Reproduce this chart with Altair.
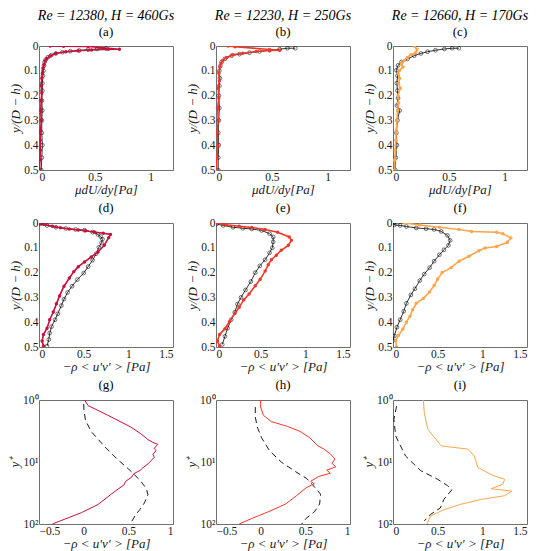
import altair as alt
import pandas as pd

# ---------------- data ----------------
# Row 1: viscous shear  mu dU/dy  vs  y/(D-h)
A_REF_X = [0.60, 0.52, 0.44, 0.36, 0.28, 0.21, 0.15, 0.11, 0.08, 0.06, 0.05, 0.045, 0.04, 0.035, 0.03, 0.03, 0.025, 0.03, 0.025, 0.025, 0.03, 0.025, 0.02]
A_REF_Y = [0.010, 0.012, 0.015, 0.018, 0.021, 0.025, 0.030, 0.037, 0.045, 0.055, 0.065, 0.080, 0.100, 0.120, 0.150, 0.180, 0.220, 0.260, 0.300, 0.350, 0.400, 0.450, 0.500]
A_MHD_X = [0.10, 0.22, 0.44, 0.72, 0.62, 0.47, 0.35, 0.24, 0.15, 0.10, 0.07, 0.055, 0.045, 0.035, 0.03, 0.025, 0.02, 0.025, 0.02, 0.015, 0.02, 0.015, 0.01, 0.012, 0.008, 0.005]
A_MHD_Y = [0.000, 0.001, 0.002, 0.013, 0.013, 0.016, 0.019, 0.023, 0.030, 0.040, 0.050, 0.060, 0.075, 0.090, 0.110, 0.130, 0.160, 0.190, 0.220, 0.260, 0.300, 0.340, 0.380, 0.420, 0.460, 0.500]

B_REF_X = [0.71, 0.64, 0.57, 0.48, 0.39, 0.30, 0.21, 0.14, 0.08, 0.05, 0.04, 0.03, 0.035, 0.03, 0.025, 0.03, 0.025, 0.02, 0.025, 0.02, 0.02]
B_REF_Y = [0.009, 0.009, 0.013, 0.017, 0.022, 0.027, 0.033, 0.039, 0.052, 0.065, 0.080, 0.100, 0.130, 0.160, 0.200, 0.250, 0.300, 0.350, 0.400, 0.450, 0.500]
B_MHD_X = [0.11, 0.17, 0.57, 0.48, 0.36, 0.24, 0.15, 0.095, 0.06, 0.045, 0.035, 0.025, 0.03, 0.02, 0.025, 0.015, 0.02, 0.01, 0.015, 0.008, 0.005]
B_MHD_Y = [0.000, 0.003, 0.017, 0.018, 0.022, 0.029, 0.035, 0.046, 0.058, 0.070, 0.085, 0.110, 0.140, 0.170, 0.210, 0.250, 0.300, 0.350, 0.400, 0.450, 0.500]

C_REF_X = [0.59, 0.53, 0.46, 0.38, 0.31, 0.25, 0.19, 0.13, 0.075, 0.045, 0.03, 0.04, 0.035, 0.04, 0.045, 0.035, 0.06, 0.04, 0.03, 0.035, 0.025, 0.02]
C_REF_Y = [0.009, 0.009, 0.012, 0.017, 0.023, 0.030, 0.039, 0.052, 0.065, 0.078, 0.098, 0.120, 0.150, 0.180, 0.210, 0.240, 0.260, 0.300, 0.350, 0.400, 0.450, 0.500]
C_MHD_X = [0.19, 0.215, 0.205, 0.16, 0.13, 0.10, 0.075, 0.09, 0.06, 0.045, 0.06, 0.05, 0.065, 0.045, 0.05, 0.04, 0.035, 0.03, 0.025, 0.02, 0.015, 0.015]
C_MHD_Y = [0.000, 0.013, 0.026, 0.035, 0.046, 0.059, 0.072, 0.085, 0.098, 0.110, 0.130, 0.150, 0.170, 0.200, 0.230, 0.260, 0.300, 0.340, 0.380, 0.420, 0.460, 0.500]

# Row 2: Reynolds shear stress  -rho<u'v'>  vs  y/(D-h)
D_REF_X = [0.02, 0.09, 0.19, 0.30, 0.41, 0.51, 0.60, 0.66, 0.69, 0.71, 0.70, 0.67, 0.64, 0.60, 0.55, 0.50, 0.43, 0.37, 0.32, 0.28, 0.25, 0.21, 0.18, 0.14, 0.12, 0.11, 0.09]
D_REF_Y = [0.003, 0.010, 0.017, 0.022, 0.026, 0.029, 0.037, 0.046, 0.055, 0.065, 0.080, 0.098, 0.124, 0.150, 0.176, 0.202, 0.228, 0.255, 0.280, 0.307, 0.333, 0.366, 0.390, 0.418, 0.444, 0.470, 0.496]
D_MHD_X = [0.02, 0.05, 0.15, 0.24, 0.34, 0.44, 0.52, 0.62, 0.72, 0.80, 0.78, 0.73, 0.66, 0.585, 0.51, 0.44, 0.39, 0.34, 0.28, 0.23, 0.195, 0.16, 0.12, 0.09, 0.05, 0.035, 0.05]
D_MHD_Y = [0.002, 0.005, 0.013, 0.019, 0.024, 0.028, 0.031, 0.036, 0.041, 0.046, 0.059, 0.090, 0.117, 0.137, 0.157, 0.176, 0.196, 0.222, 0.255, 0.294, 0.326, 0.359, 0.390, 0.424, 0.450, 0.476, 0.496]

E_REF_X = [0.007, 0.08, 0.19, 0.30, 0.40, 0.51, 0.60, 0.64, 0.64, 0.63, 0.60, 0.55, 0.49, 0.44, 0.39, 0.33, 0.28, 0.24, 0.21, 0.17, 0.13, 0.10, 0.07]
E_REF_Y = [0.004, 0.010, 0.017, 0.021, 0.024, 0.030, 0.043, 0.056, 0.076, 0.100, 0.120, 0.148, 0.173, 0.200, 0.236, 0.270, 0.300, 0.327, 0.360, 0.390, 0.424, 0.457, 0.490]
E_MHD_X = [0.007, 0.115, 0.26, 0.40, 0.55, 0.69, 0.82, 0.845, 0.81, 0.73, 0.675, 0.62, 0.585, 0.55, 0.495, 0.44, 0.37, 0.31, 0.26, 0.21, 0.15, 0.10, 0.04, 0.015, 0.04]
E_MHD_Y = [0.000, 0.007, 0.013, 0.018, 0.026, 0.037, 0.056, 0.070, 0.090, 0.110, 0.130, 0.148, 0.168, 0.194, 0.227, 0.253, 0.286, 0.310, 0.340, 0.365, 0.398, 0.426, 0.450, 0.476, 0.496]

F_REF_X = [0.007, 0.015, 0.08, 0.15, 0.26, 0.37, 0.46, 0.54, 0.61, 0.64, 0.62, 0.57, 0.52, 0.46, 0.41, 0.35, 0.30, 0.245, 0.20, 0.15, 0.12, 0.08, 0.044, 0.015, 0.0]
F_REF_Y = [0.000, 0.008, 0.010, 0.014, 0.020, 0.023, 0.026, 0.034, 0.050, 0.070, 0.090, 0.108, 0.128, 0.154, 0.180, 0.206, 0.232, 0.265, 0.290, 0.324, 0.356, 0.390, 0.420, 0.455, 0.474]
F_MHD_X = [0.13, 0.30, 0.52, 0.74, 0.88, 1.16, 1.23, 1.32, 1.28, 1.16, 1.03, 0.96, 0.85, 0.74, 0.65, 0.55, 0.50, 0.46, 0.41, 0.34, 0.26, 0.22, 0.19, 0.15, 0.11, 0.06, 0.03, 0.04]
F_MHD_Y = [0.000, 0.008, 0.017, 0.026, 0.034, 0.037, 0.043, 0.060, 0.078, 0.095, 0.101, 0.112, 0.134, 0.154, 0.180, 0.200, 0.226, 0.252, 0.278, 0.304, 0.324, 0.350, 0.376, 0.400, 0.428, 0.454, 0.474, 0.500]

# Row 3: Reynolds shear stress vs y+ (log)
G_REF_X = [0.0, 0.004, 0.02, 0.084, 0.23, 0.375, 0.52, 0.63, 0.70, 0.72, 0.68, 0.63, 0.575, 0.52]
G_REF_Y = [1.16, 1.47, 2.11, 3.22, 5.54, 8.97, 13.7, 19.7, 26.5, 33.8, 45.7, 58, 74, 100]
G_MHD_X = [0.01, 0.05, 0.27, 0.52, 0.63, 0.72, 0.77, 0.83, 0.79, 0.81, 0.775, 0.79, 0.72, 0.66, 0.63, 0.56, 0.54, 0.47, 0.45, 0.36, 0.30, 0.16, -0.025, -0.21, -0.35]
G_MHD_Y = [1.0, 1.23, 1.76, 2.69, 3.42, 4.35, 4.8, 5.2, 6.0, 6.6, 7.5, 8.4, 10.7, 12.5, 13.7, 15.5, 17.4, 20.5, 23.5, 29.0, 33.8, 48.5, 65.6, 83.3, 100]

H_REF_X = [-0.06, -0.06, -0.04, 0.01, 0.10, 0.23, 0.39, 0.51, 0.58, 0.67, 0.66, 0.60, 0.51, 0.46]
H_REF_Y = [1.3, 1.87, 2.67, 4.07, 6.6, 10, 14.3, 18.2, 23.2, 33, 47.6, 64, 81, 100]
H_MHD_X = [0.0, 0.0, 0.03, 0.12, 0.30, 0.44, 0.55, 0.64, 0.71, 0.78, 0.83, 0.80, 0.84, 0.74, 0.78, 0.65, 0.56, 0.60, 0.51, 0.40, 0.28, 0.08, -0.10, -0.24]
H_MHD_Y = [1.0, 1.3, 1.76, 2.23, 2.67, 3.2, 4.07, 5.5, 6.2, 7.4, 8.9, 10.5, 12.0, 13.5, 15.2, 17.1, 20.5, 22.5, 26, 35, 47.6, 64, 81.5, 100]

I_REF_X = [0.04, 0.01, 0.03, 0.14, 0.31, 0.50, 0.61, 0.66, 0.57, 0.53, 0.42, 0.35]
I_REF_Y = [1.26, 2.04, 3.8, 8, 13.8, 19, 24, 28, 40, 55, 70, 89]
I_MHD_X = [0.34, 0.35, 0.39, 0.54, 0.84, 0.91, 0.95, 1.12, 1.25, 1.23, 1.10, 1.33, 1.25, 0.99, 0.76, 0.57, 0.42, 0.38]
I_MHD_Y = [1.0, 1.6, 2.95, 5.5, 6.2, 8.0, 12.3, 16.5, 19, 22.8, 27, 29.5, 35, 40, 48, 59, 74, 100]

HEADERS = ["Re = 12380,  H = 460Gs", "Re = 12230,  H = 250Gs", "Re = 12660,  H = 170Gs"]
LABELS = ["(a)", "(b)", "(c)", "(d)", "(e)", "(f)", "(g)", "(h)", "(i)"]
COLORS = ["#C8103A", "#F0382A", "#FFA54A"]

W, H = 134, 124
FONT = "Liberation Serif"


def frame(rx, ry, mx, my):
    rows = []
    for k, (x, y) in enumerate(zip(rx, ry)):
        rows.append({"x": x, "y": y, "s": "ref", "i": k})
    for k, (x, y) in enumerate(zip(mx, my)):
        rows.append({"x": x, "y": y, "s": "mhd", "i": k})
    return pd.DataFrame(rows)


def panel(rx, ry, mx, my, color, xdom, xticks, xtitle, title, log=False):
    df = frame(rx, ry, mx, my)
    base = alt.Chart(df)
    x = alt.X("x:Q", scale=alt.Scale(domain=xdom, nice=False, zero=False),
              axis=alt.Axis(values=xticks, title=xtitle, format="~g"))
    if log:
        y = alt.Y("y:Q", scale=alt.Scale(type="log", domain=[1, 100], reverse=True, nice=False),
                  axis=alt.Axis(values=[1, 10, 100], title="y⁺",
                                labelExpr="datum.value == 1 ? '10⁰' : (datum.value == 10 ? '10¹' : '10²')"))
    else:
        y = alt.Y("y:Q", scale=alt.Scale(domain=[0, 0.5], reverse=True, nice=False, zero=False),
                  axis=alt.Axis(values=[0, 0.1, 0.2, 0.3, 0.4, 0.5], title="y/(D − h)", format="~g"))
    order = alt.Order("i:Q")
    ref = base.transform_filter("datum.s == 'ref'")
    mhd = base.transform_filter("datum.s == 'mhd'")
    if log:
        layers = [
            ref.mark_line(color="black", strokeWidth=0.9, strokeDash=[6, 4], clip=True).encode(x=x, y=y, order=order),
            mhd.mark_line(color=color, strokeWidth=1.0, clip=True).encode(x=x, y=y, order=order),
        ]
    else:
        layers = [
            ref.mark_line(color="black", strokeWidth=0.8, clip=True).encode(x=x, y=y, order=order),
            ref.mark_point(shape="circle", filled=False, color="black", size=14, strokeWidth=0.8, clip=True).encode(x=x, y=y),
            mhd.mark_line(color=color, strokeWidth=1.6, clip=True).encode(x=x, y=y, order=order),
            mhd.mark_circle(color=color, size=12, opacity=1, clip=True).encode(x=x, y=y),
        ]
    return alt.layer(*layers).properties(width=W, height=H, title=title)


panels = []
data1 = [(A_REF_X, A_REF_Y, A_MHD_X, A_MHD_Y), (B_REF_X, B_REF_Y, B_MHD_X, B_MHD_Y), (C_REF_X, C_REF_Y, C_MHD_X, C_MHD_Y)]
data2 = [(D_REF_X, D_REF_Y, D_MHD_X, D_MHD_Y), (E_REF_X, E_REF_Y, E_MHD_X, E_MHD_Y), (F_REF_X, F_REF_Y, F_MHD_X, F_MHD_Y)]
data3 = [(G_REF_X, G_REF_Y, G_MHD_X, G_MHD_Y), (H_REF_X, H_REF_Y, H_MHD_X, H_MHD_Y), (I_REF_X, I_REF_Y, I_MHD_X, I_MHD_Y)]

for c in range(3):
    t = alt.TitleParams(text=HEADERS[c], subtitle=LABELS[c], font=FONT, fontStyle="italic", fontSize=14,
                        fontWeight="normal", subtitleFont=FONT, subtitleFontSize=13, subtitleColor="black",
                        color="black", anchor="middle", offset=1, subtitlePadding=3)
    panels.append(panel(*data1[c], COLORS[c], [0, 1.2], [0, 0.5, 1], "μdU/dy[Pa]", t))
for c in range(3):
    t = alt.TitleParams(text=LABELS[3 + c], font=FONT, fontSize=13, fontWeight="normal", color="black",
                        anchor="middle", offset=2)
    panels.append(panel(*data2[c], COLORS[c], [0, 1.5], [0, 0.5, 1, 1.5], "−ρ < u′v′ > [Pa]", t))
xdoms3 = [[-0.5, 1], [-0.5, 1], [0, 1.5]]
xticks3 = [[-0.5, 0, 0.5, 1], [-0.5, 0, 0.5, 1], [0, 0.5, 1, 1.5]]
for c in range(3):
    t = alt.TitleParams(text=LABELS[6 + c], font=FONT, fontSize=13, fontWeight="normal", color="black",
                        anchor="middle", offset=2)
    panels.append(panel(*data3[c], COLORS[c], xdoms3[c], xticks3[c], "−ρ < u′v′ > [Pa]", t, log=True))

chart = alt.concat(*panels, columns=3, spacing={"row": 53, "column": 43}, align="each", bounds="flush").properties(
    padding=0, background="white"
).configure_view(stroke="#707070", strokeWidth=1).configure_axis(
    domain=False, ticks=False, grid=False,
    labelFont=FONT, labelFontSize=11.5, labelColor="#1a1a1a", labelPadding=1,
    titleFont=FONT, titleFontSize=13, titleFontStyle="italic", titleFontWeight="normal",
    titleColor="#1a1a1a", titlePadding=1,
)

chart.save("out.html", embed_options={"renderer": "svg", "actions": False})
